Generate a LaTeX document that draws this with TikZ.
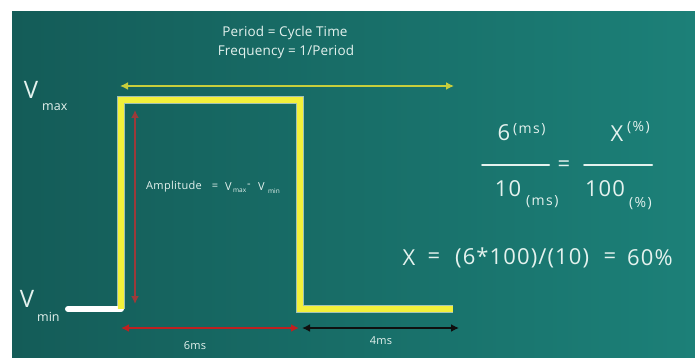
\documentclass[tikz,border=0pt]{standalone}
\usepackage{fontspec}
\setmainfont{Open Sans}
\usetikzlibrary{arrows.meta}
\definecolor{tealL}{RGB}{20,92,88}
\definecolor{tealR}{RGB}{28,128,120}
\definecolor{chalk}{RGB}{228,242,238}
\definecolor{sigyellow}{RGB}{242,240,58}
\definecolor{arrowolive}{RGB}{200,206,60}
\definecolor{ampred}{RGB}{155,58,58}
\definecolor{durred}{RGB}{190,32,32}
\definecolor{durblack}{RGB}{15,15,15}
\begin{document}
\begin{tikzpicture}[x=1pt,y=-1pt,
  lbl/.style={text=chalk,inner sep=0pt,font=\fontsize{13.5}{15}\selectfont\addfontfeature{LetterSpace=1}},
  sublbl/.style={text=chalk,inner sep=0pt,font=\fontsize{12.5}{14}\selectfont},
  biglbl/.style={text=chalk,inner sep=0pt,font=\fontsize{22}{24}\selectfont\addfontfeature{LetterSpace=5}},
  vlbl/.style={text=chalk,inner sep=0pt,font=\fontsize{24}{26}\selectfont},
  midlbl/.style={text=chalk,inner sep=0pt,font=\fontsize{14}{15}\selectfont\addfontfeature{LetterSpace=10}},
  smalllbl/.style={text=chalk,inner sep=0pt,font=\fontsize{11}{12}\selectfont\addfontfeature{LetterSpace=3}},
  tinylbl/.style={text=chalk,inner sep=0pt,font=\fontsize{6.5}{7}\selectfont},
  dbl/.style={line width=2.6pt,{Latex[length=8pt,width=8pt]}-{Latex[length=8pt,width=8pt]}},
  fracline/.style={chalk,line width=2pt,line cap=round}
]
\useasboundingbox (0,0) rectangle (695,358);
\fill[white] (0,0) rectangle (695,358);
\shade[left color=tealL,right color=tealR] (12,12) rectangle (695,358);

% signal coordinates
\coordinate (s0) at (68,309);
\coordinate (s1) at (121,309);
\coordinate (s2) at (121,100);
\coordinate (s3) at (300,100);
\coordinate (s4) at (300,309);
\coordinate (s5) at (453,309);
\draw[white,line width=6pt,line cap=round] (s0) -- (s1);
\draw[white!90!sigyellow,line width=7.5pt,opacity=0.6] (s1) -- (s2) -- (s3) -- (s4) -- (s5);
\draw[sigyellow,line width=5.5pt] (s1) -- (s2) -- (s3) -- (s4) -- (s5);

% period arrow
\coordinate (p0) at (120,86);
\coordinate (p1) at (454,86);
\draw[arrowolive,dbl] (p0) -- (p1);

% amplitude arrow
\coordinate (a0) at (135,110);
\coordinate (a1) at (135,304);
\draw[ampred,dbl] (a0) -- (a1);

% duration arrows
\coordinate (b0) at (121,328);
\coordinate (b1) at (299,328);
\coordinate (b2) at (302,328);
\coordinate (b3) at (459,328);
\draw[durred,dbl] (b0) -- (b1);
\draw[durblack,dbl] (b2) -- (b3);

% texts
\node[lbl] (period) at (285,33) {Period = Cycle Time};
\node[lbl] (freq) at (286,52) {Frequency = 1/Period};
\node[vlbl] (vmax) at (31,90) {V};
\node[sublbl,anchor=west] (vmaxsub) at (42,107) {max};
\node[vlbl] (vmin) at (27,299) {V};
\node[sublbl,anchor=west] (vminsub) at (37,317) {min};
\node[smalllbl,anchor=west] (amp) at (146,187) {Amplitude};
\node[smalllbl] (ampeq) at (215,187) {=};
\node[smalllbl,anchor=west] (ampv1) at (225,187) {V};
\node[tinylbl,anchor=west] (ampmax) at (233,191) {max};
\node[smalllbl] (ampminus) at (249,186) {-};
\node[smalllbl,anchor=west] (ampv2) at (258,187) {V};
\node[tinylbl,anchor=west] (ampmin) at (268,191) {min};
\node[smalllbl] (six) at (195,346) {6ms};
\node[smalllbl] (four) at (381,341) {4ms};

% fraction
\coordinate (f0) at (482,165);
\coordinate (f1) at (549,165);
\coordinate (f2) at (584,165);
\coordinate (f3) at (652,165);
\draw[fracline] (f0) -- (f1);
\draw[fracline] (f2) -- (f3);
\node[biglbl] (feq) at (564,166) {=};
\node[biglbl] (n6) at (504,133) {6};
\node[midlbl,anchor=west] (n6u) at (513,130) {(ms)};
\node[biglbl] (nx) at (617,134) {X};
\node[midlbl,anchor=west] (nxu) at (627,128) {(\%)};
\node[biglbl] (n10) at (508,189) {10};
\node[midlbl,anchor=west] (n10u) at (526,202) {(ms)};
\node[biglbl] (n100) at (605,189) {100};
\node[midlbl,anchor=west] (n100u) at (629,204) {(\%)};

% equation
\node[biglbl] (ex) at (409,258) {X};
\node[biglbl] (eeq1) at (434,258) {=};
\node[biglbl,anchor=west] (expr) at (455,258) {(6*100)/(10)};
\node[biglbl] (eeq2) at (610,258) {=};
\node[biglbl,anchor=west] (res) at (627,258) {60\%};
\end{tikzpicture}
\end{document}
